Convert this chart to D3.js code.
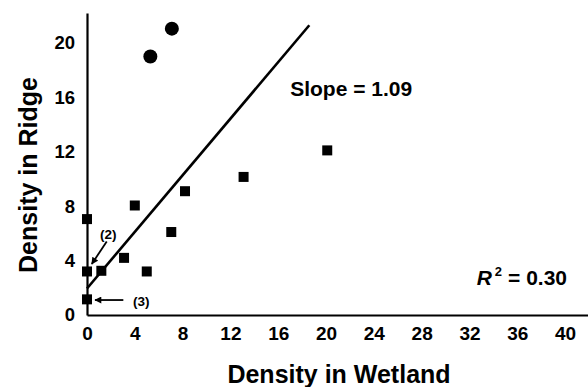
<!DOCTYPE html>
<html>
<head>
<meta charset="utf-8">
<script src="https://cdn.jsdelivr.net/npm/d3@7"></script>
<style>
  html, body { margin: 0; padding: 0; background: #fff; }
  svg { display: block; font-family: "Liberation Sans", Arial, Helvetica, sans-serif; font-weight: bold; }
</style>
</head>
<body>
<svg id="chart" width="588" height="387"></svg>
<script>
// ---- data ----
const squareX = [0, 0, 1.2, 0, 3.1, 4.0, 5.0, 7.05, 8.2, 13.1, 20.1];
const squareY = [7.05, 3.2, 3.25, 1.15, 4.2, 8.05, 3.2, 6.1, 9.1, 10.15, 12.1];
const circleX = [5.3, 7.1];
const circleY = [19.0, 21.05];
const fitX = [0, 18.6];
const fitY = [1.95, 21.3];
const xTicks = [0, 4, 8, 12, 16, 20, 24, 28, 32, 36, 40];
const yTicks = [0, 4, 8, 12, 16, 20];
const xTitle = "Density in Wetland";
const yTitle = "Density in Ridge";
const slopeText = "Slope = 1.09";
const r2Value = "= 0.30";
const notes = ["(2)", "(3)"];

// ---- layout ----
const svg = d3.select("#chart");
const x = d3.scaleLinear().domain([0, 42]).range([87, 589]);
const y = d3.scaleLinear().domain([0, 22.2]).range([315, 13]);

// axes
const xAxis = d3.axisBottom(x).tickValues(xTicks).tickSize(0).tickPadding(12);
const yAxis = d3.axisLeft(y).tickValues(yTicks).tickSize(0).tickPadding(12);

const gx = svg.append("g").attr("transform", `translate(0,${y(0)})`).call(xAxis);
gx.select(".domain").attr("stroke", "#000").attr("stroke-width", 2.2);
gx.selectAll("text").attr("font-size", 19).attr("font-weight", "bold").attr("fill", "#000")
  .attr("font-family", "Liberation Sans, Arial, sans-serif");

const gy = svg.append("g").attr("transform", `translate(${x(0)},0)`).call(yAxis);
gy.select(".domain").attr("stroke", "#000").attr("stroke-width", 2.2);
gy.selectAll("text").attr("font-size", 18.5).attr("font-weight", "bold").attr("fill", "#000")
  .attr("font-family", "Liberation Sans, Arial, sans-serif");

// titles
svg.append("text").attr("x", 339).attr("y", 383).attr("text-anchor", "middle")
  .attr("font-size", 25).text(xTitle);
svg.append("text").attr("transform", "translate(37,175) rotate(-90)").attr("text-anchor", "middle")
  .attr("font-size", 25).text(yTitle);

// regression line
svg.append("line")
  .attr("x1", x(fitX[0])).attr("y1", y(fitY[0]))
  .attr("x2", x(fitX[1])).attr("y2", y(fitY[1]))
  .attr("stroke", "#000").attr("stroke-width", 2.6);

// squares
const sq = 10;
svg.append("g").selectAll("rect").data(squareX.map((v, i) => [v, squareY[i]])).join("rect")
  .attr("x", d => x(d[0]) - sq / 2).attr("y", d => y(d[1]) - sq / 2)
  .attr("width", sq).attr("height", sq).attr("fill", "#000");

// circles
svg.append("g").selectAll("circle").data(circleX.map((v, i) => [v, circleY[i]])).join("circle")
  .attr("cx", d => x(d[0])).attr("cy", d => y(d[1])).attr("r", 7).attr("fill", "#000");

// arrow marker
svg.append("defs").append("marker").attr("id", "ah")
  .attr("viewBox", "0 0 10 10").attr("refX", 9).attr("refY", 5)
  .attr("markerWidth", 9).attr("markerHeight", 7).attr("orient", "auto")
  .attr("markerUnits", "userSpaceOnUse")
  .append("path").attr("d", "M0,0 L10,5 L0,10 Z").attr("fill", "#000");

// annotation (2)
svg.append("line").attr("x1", x(1.65)).attr("y1", y(5.4)).attr("x2", x(0.4)).attr("y2", y(3.75))
  .attr("stroke", "#000").attr("stroke-width", 1.8).attr("marker-end", "url(#ah)");
svg.append("text").attr("x", x(1.78)).attr("y", y(5.9)).attr("dy", "0.35em")
  .attr("text-anchor", "middle").attr("font-size", 13.5).text(notes[0]);

// annotation (3)
svg.append("line").attr("x1", x(3.04)).attr("y1", y(1.1)).attr("x2", x(0.67)).attr("y2", y(1.1))
  .attr("stroke", "#000").attr("stroke-width", 1.8).attr("marker-end", "url(#ah)");
svg.append("text").attr("x", x(3.85)).attr("y", y(0.98)).attr("dy", "0.35em")
  .attr("text-anchor", "start").attr("font-size", 13.5).text(notes[1]);

// slope text
svg.append("text").attr("x", x(17)).attr("y", y(16.1)).attr("font-size", 21).text(slopeText);

// R^2 text
const r2 = svg.append("text").attr("x", x(32.6)).attr("y", y(2.2)).attr("font-size", 21);
r2.append("tspan").attr("font-style", "italic").text("R");
r2.append("tspan").attr("font-size", 13).attr("dy", -9).attr("dx", 3).text("2");
r2.append("tspan").attr("dy", 9).attr("dx", 6).text(r2Value);
</script>
</body>
</html>
